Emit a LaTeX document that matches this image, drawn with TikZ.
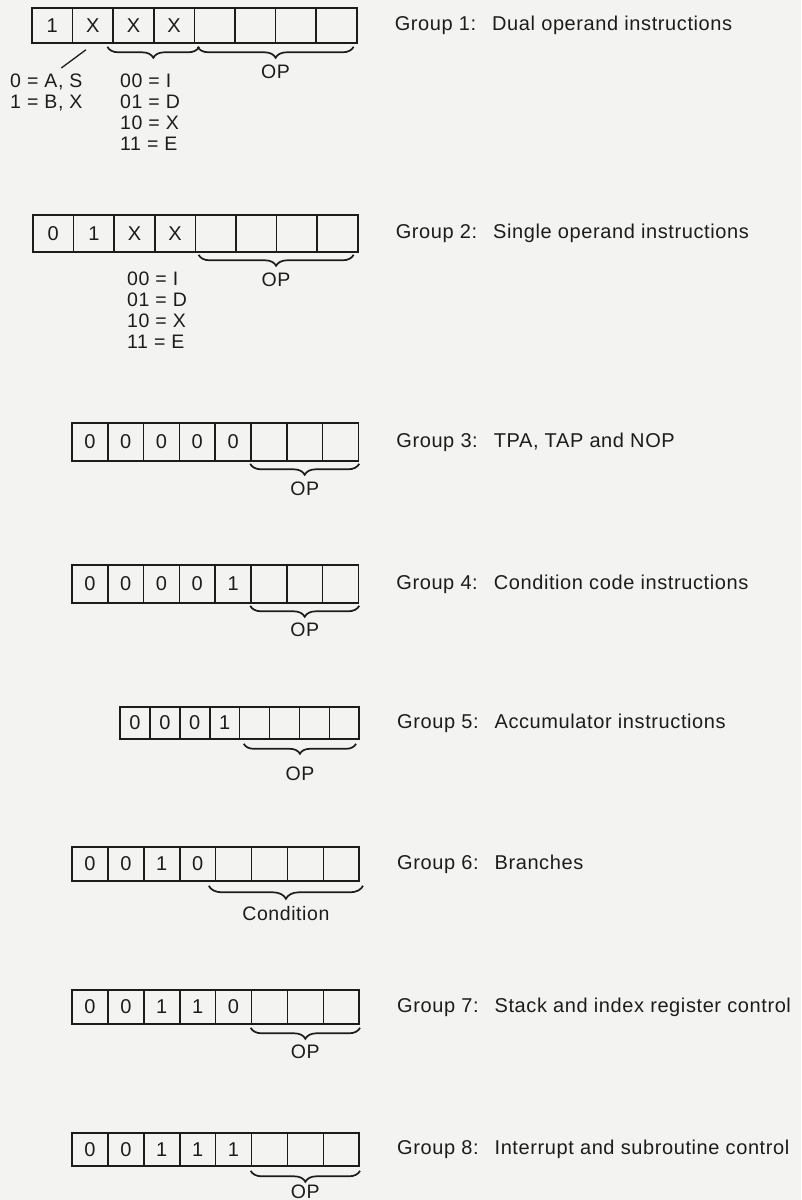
\documentclass[tikz,border=0pt]{standalone}
\usepackage{fontspec}
\setmainfont[LetterSpace=3]{Liberation Sans}
\usepackage{xcolor}
\usepackage{tikz}
\usetikzlibrary{positioning, decorations.pathreplacing, calc}
\definecolor{inkblack}{HTML}{1C1C1C}
\definecolor{paper}{HTML}{F3F3F1}

\begin{document}
\begin{tikzpicture}[x=1pt, y=-1pt,
  bitcell/.style={draw=inkblack, line width=1.6pt, inner sep=0pt, text=inkblack, font=\fontsize{20}{22}\selectfont},
  brc/.style={draw=inkblack, line width=1.7pt, decorate, decoration={brace, mirror, amplitude=11pt}},
  bitnote/.style={anchor=north west, align=left, inner sep=0pt, text=inkblack, font=\fontsize{19.5}{21}\selectfont},
  fieldlbl/.style={inner sep=0pt, text=inkblack, font=\fontsize{19.5}{21}\selectfont},
  grplbl/.style={inner sep=0pt, text=inkblack, font=\fontsize{20}{22}\selectfont},
]
  \fill[paper] (0,0) rectangle (801,1200);
  \useasboundingbox (0,0) rectangle (801,1200);

  % Instruction words: group/left/centre/cell width/cell height/bits
  \foreach \g/\x/\y/\w/\h/\bits in {
      1/32/25.5/40.6/35/{1,X,X,X,,,,},
      2/33/233.5/40.6/37/{0,1,X,X,,,,},
      3/72/442/35.8/38/{0,0,0,0,0,,,},
      4/72/584/35.8/38/{0,0,0,0,1,,,},
      5/120/723/29.9/32/{0,0,0,1,,,,},
      6/72/864/35.9/34/{0,0,1,0,,,,},
      7/72/1007/35.9/34/{0,0,1,1,0,,,},
      8/72/1149.5/35.9/33/{0,0,1,1,1,,,}} {
    \foreach \v [count=\i] in \bits {
      \node[bitcell, minimum width=\w pt, minimum height=\h pt] (g\g c\i) at ({\x+\w*(\i-0.5)},\y) {\v};
    }
  }

  % Group titles
  \foreach \g/\txt in {1/Dual operand instructions, 2/Single operand instructions,
      3/{TPA, TAP and NOP}, 4/Condition code instructions, 5/Accumulator instructions,
      6/Branches, 7/Stack and index register control, 8/Interrupt and subroutine control} {
    \node[grplbl, right=37pt of g\g c8] (title\g) {Group \g:\hspace{0.8em}\txt};
  }

  % Group 1
  \draw[brc] ([xshift=-5pt,yshift=-3pt]g1c3.south west) -- ([xshift=4pt,yshift=-3pt]g1c4.south east);
  \draw[brc] ([xshift=4pt,yshift=-3pt]g1c5.south west) -- ([xshift=-4pt,yshift=-3pt]g1c8.south east)
    node[fieldlbl, midway, below=17pt] (op1) {OP};
  \node[bitnote] (acc1) at (10,74) {0 = A, S\\1 = B, X};
  \node[bitnote] (mode1) at (120,74) {00 = I\\01 = D\\10 = X\\11 = E};
  \draw[draw=inkblack, line width=1.3pt] ([xshift=-7pt,yshift=-6pt]g1c2.south) -- ([xshift=15pt,yshift=6pt]acc1.north);

  % Group 2
  \draw[brc] ([xshift=4pt,yshift=-2pt]g2c5.south west) -- ([xshift=-5pt,yshift=-2pt]g2c8.south east)
    node[fieldlbl, midway, below=17pt] (op2) {OP};
  \node[bitnote] (mode2) at (127,272) {00 = I\\01 = D\\10 = X\\11 = E};

  % Groups 3, 4, 7, 8
  \draw[brc] ([yshift=-2pt]g3c6.south west) -- ([yshift=-2pt]g3c8.south east)
    node[fieldlbl, midway, below=17pt] (op3) {OP};
  \draw[brc] ([yshift=-2pt]g4c6.south west) -- ([yshift=-2pt]g4c8.south east)
    node[fieldlbl, midway, below=16pt] (op4) {OP};
  \draw[brc] ([yshift=-3pt]g7c6.south west) -- ([yshift=-3pt]g7c8.south east)
    node[fieldlbl, midway, below=16pt] (op7) {OP};
  \draw[brc] ([yshift=-4pt]g8c6.south west) -- ([yshift=-4pt]g8c8.south east)
    node[fieldlbl, midway, below=13pt] (op8) {OP};

  % Group 5
  \draw[brc, decoration={amplitude=10pt}] ([xshift=5pt,yshift=-4pt]g5c5.south west) -- ([xshift=-4pt,yshift=-4pt]g5c8.south east)
    node[fieldlbl, midway, below=22pt] (op5) {OP};

  % Group 6
  \draw[brc, decoration={amplitude=13pt}] ([xshift=-6pt,yshift=-4pt]g6c5.south west) -- ([xshift=3pt,yshift=-4pt]g6c8.south east)
    node[fieldlbl, midway, below=20pt] (cond6) {Condition};
\end{tikzpicture}
\end{document}
